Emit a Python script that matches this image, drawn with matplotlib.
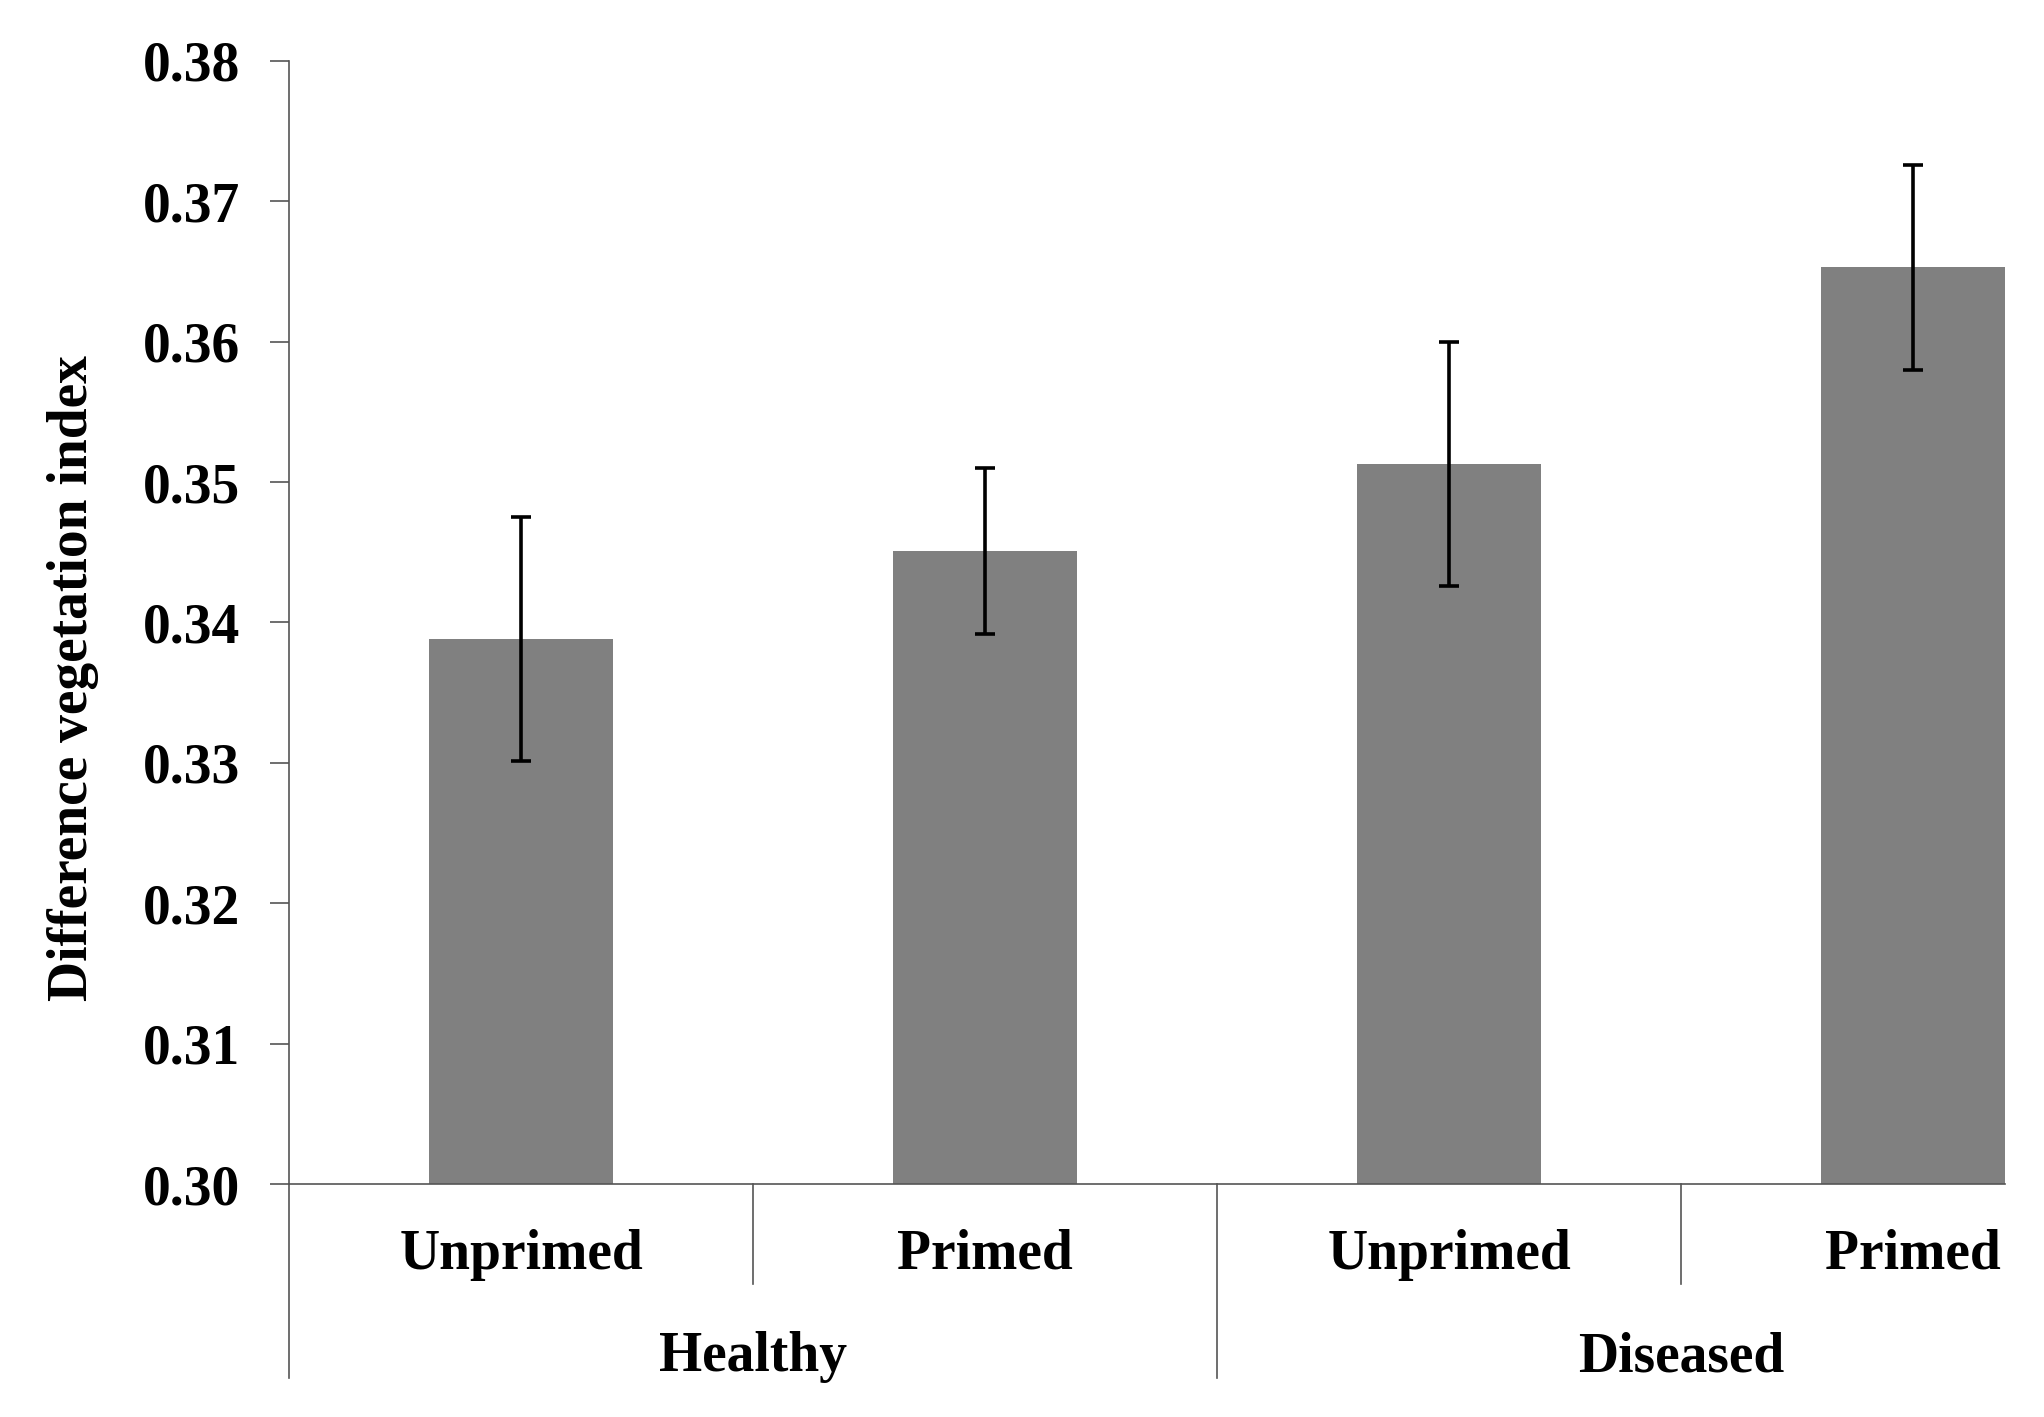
import matplotlib
matplotlib.use("Agg")
import matplotlib.pyplot as plt
import matplotlib.transforms as mtransforms

# values
treatments = ['Unprimed', 'Primed', 'Unprimed', 'Primed']
groups = ['Healthy', 'Diseased']
means = [0.3388, 0.3451, 0.3513, 0.3653]
errors = [0.0087, 0.0059, 0.0087, 0.0073]
yticks = [0.30, 0.31, 0.32, 0.33, 0.34, 0.35, 0.36, 0.37, 0.38]

plt.rcParams['font.family'] = ['Liberation Serif', 'DejaVu Serif']
plt.rcParams['font.weight'] = 'bold'

fig = plt.figure(figsize=(20.44, 14.17), dpi=100)
ax = fig.add_axes([0.1414, 0.1644, 0.981 - 0.1414, 0.957 - 0.1644])

x = list(range(len(means)))
ax.bar(x, [m - 0.30 for m in means], bottom=0.30, width=0.396, color='#808080')
ax.errorbar(x, means, yerr=errors, fmt='none', ecolor='black',
            elinewidth=2.6, capsize=7.5, capthick=2.6)

ax.set_xlim(-0.5, 3.198)
ax.set_ylim(0.30, 0.38)
ax.set_yticks(yticks)
ax.set_yticklabels(['%.2f' % t for t in yticks], fontsize=40, fontweight='bold')
ax.tick_params(axis='y', length=14, width=1.2, color='#555555', pad=21)
ax.set_xticks([])

for s in ['top', 'right']:
    ax.spines[s].set_visible(False)
for s in ['left', 'bottom']:
    ax.spines[s].set_color('#555555')
    ax.spines[s].set_linewidth(1.2)

trans = mtransforms.blended_transform_factory(ax.transData, ax.transAxes)

# short lines between treatments, long lines between groups
for xs in [0.5, 2.5]:
    ax.plot([xs, xs], [0, -0.089], color='#555555', lw=1.2,
            transform=trans, clip_on=False)
for xs in [-0.5, 1.5]:
    ax.plot([xs, xs], [0, -0.173], color='#555555', lw=1.2,
            transform=trans, clip_on=False)

for i, t in enumerate(treatments):
    ax.text(i, -0.063, t, transform=trans, ha='center', va='center',
            fontsize=40, fontweight='bold')
for j, g in enumerate(groups):
    ax.text(2 * j + 0.5, -0.154, g, transform=trans, ha='center', va='center',
            fontsize=40, fontweight='bold')

fig.text(73 / 2044, 1 - 678 / 1417, 'Difference vegetation index', rotation=90,
         ha='center', va='center', fontsize=40, fontweight='bold')

fig.savefig('out.png', dpi=100)
